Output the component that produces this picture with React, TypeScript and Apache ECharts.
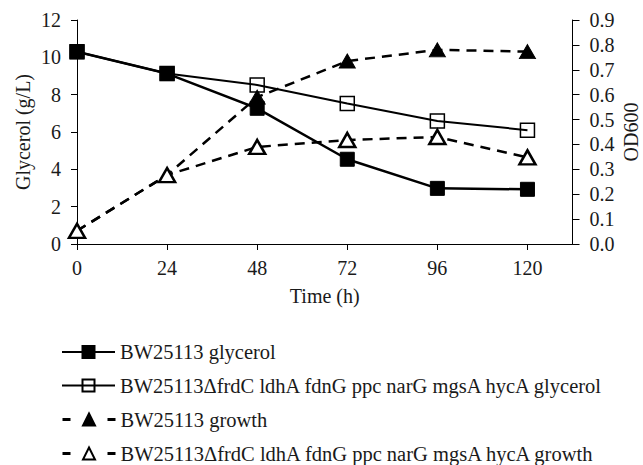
import React, { useEffect, useRef } from "react";
import * as echarts from "echarts";

const times = [0, 24, 48, 72, 96, 120];
const wtGlycerol = [10.3, 9.13, 7.27, 4.54, 2.98, 2.93];
const mutGlycerol = [10.3, 9.13, 8.52, 7.53, 6.59, 6.1];
const wtGrowth = [0.053, 0.277, 0.59, 0.735, 0.78, 0.773];
const mutGrowth = [0.053, 0.277, 0.39, 0.418, 0.43, 0.348];
const xTicks = [0, 24, 48, 72, 96, 120];

const names = [
  "BW25113 glycerol",
  "BW25113\u0394frdC ldhA fdnG ppc narG mgsA hycA glycerol",
  "BW25113 growth",
  "BW25113\u0394frdC ldhA fdnG ppc narG mgsA hycA growth",
];
const legendTops = [336.5, 370, 404, 438];

const FONT = "Liberation Serif";
const TXT = "#1a1a1a";
const FS = 20;

export default function App() {
  const ref = useRef<HTMLDivElement>(null);
  useEffect(() => {
    const chart = echarts.init(ref.current!, null, { renderer: "svg" });
    const pair = (ys: number[]) => times.map((t, i) => [t, ys[i]]);
    chart.setOption({
      animation: false,
      textStyle: { fontFamily: FONT, color: TXT },
      grid: {
        left: 77,
        right: 70.5,
        top: 20,
        bottom: 221,
        containLabel: false,
        outerBoundsMode: "none",
      },
      legend: names.map((n, i) => ({
        orient: "vertical",
        left: 56,
        top: legendTops[i],
        itemWidth: 53,
        itemHeight: 15,
        itemGap: 0,
        data: [n],
        ...(i >= 2 ? { lineStyle: { type: [8, 37], width: 3 } } : {}),
        textStyle: { fontFamily: FONT, fontSize: 20.5, color: TXT, lineHeight: 20 },
      })),
      xAxis: {
        type: "value",
        min: 0,
        max: 132,
        interval: 24,
        name: "Time (h)",
        nameLocation: "middle",
        nameGap: 42,
        nameTextStyle: { fontFamily: FONT, fontSize: FS, color: TXT },
        axisLine: { lineStyle: { color: "#000", width: 1 } },
        axisTick: { customValues: xTicks, length: 6, lineStyle: { color: "#000" } },
        axisLabel: { customValues: xTicks, margin: 14, fontFamily: FONT, fontSize: FS, color: TXT },
        splitLine: { show: false },
      },
      yAxis: [
        {
          type: "value",
          min: 0,
          max: 12,
          interval: 2,
          name: "Glycerol (g/L)",
          nameLocation: "middle",
          nameRotate: 90,
          nameGap: 44,
          nameMoveOverlap: false,
          nameTextStyle: { fontFamily: FONT, fontSize: FS, color: TXT },
          axisLine: { show: true, lineStyle: { color: "#000", width: 1 } },
          axisTick: { show: true, length: 6, lineStyle: { color: "#000" } },
          axisLabel: { margin: 16, fontFamily: FONT, fontSize: FS, color: TXT },
          splitLine: { show: false },
        },
        {
          type: "value",
          min: 0,
          max: 0.9,
          interval: 0.1,
          position: "right",
          name: "OD600",
          nameLocation: "middle",
          nameRotate: 90,
          nameGap: 48,
          nameMoveOverlap: false,
          nameTextStyle: { fontFamily: FONT, fontSize: FS, color: TXT },
          axisLine: { show: true, lineStyle: { color: "#000", width: 1 } },
          axisTick: { show: true, length: 7, lineStyle: { color: "#000" } },
          axisLabel: {
            margin: 17,
            fontFamily: FONT,
            fontSize: FS,
            color: TXT,
            formatter: (v: number) => v.toFixed(1),
          },
          splitLine: { show: false },
        },
      ],
      series: [
        {
          name: names[1],
          type: "line",
          yAxisIndex: 0,
          data: pair(mutGlycerol),
          symbol: "rect",
          symbolSize: 14,
          lineStyle: { color: "#000", width: 2 },
          itemStyle: { color: "rgba(0,0,0,0)", borderColor: "#000", borderWidth: 1.5 },
          z: 2,
        },
        {
          name: names[0],
          type: "line",
          yAxisIndex: 0,
          data: pair(wtGlycerol),
          symbol: "rect",
          symbolSize: 14,
          lineStyle: { color: "#000", width: 2.5 },
          itemStyle: { color: "#000", borderColor: "#000", borderWidth: 1 },
          z: 3,
        },
        {
          name: names[2],
          type: "line",
          yAxisIndex: 1,
          data: pair(wtGrowth),
          symbol: "triangle",
          symbolSize: [16, 14],
          lineStyle: { color: "#000", width: 2.5, type: [10, 7] },
          itemStyle: { color: "#000", borderColor: "#000", borderWidth: 1 },
          z: 4,
        },
        {
          name: names[3],
          type: "line",
          yAxisIndex: 1,
          data: pair(mutGrowth),
          symbol: "triangle",
          symbolSize: [16, 14],
          lineStyle: { color: "#000", width: 2.5, type: [10, 7] },
          itemStyle: { color: "#fff", borderColor: "#000", borderWidth: 2.5 },
          z: 5,
        },
      ],
    });
    return () => chart.dispose();
  }, []);
  return (
    <div
      ref={ref}
      style={{ position: "absolute", left: 0, top: 0, width: 643, height: 465 }}
    />
  );
}
